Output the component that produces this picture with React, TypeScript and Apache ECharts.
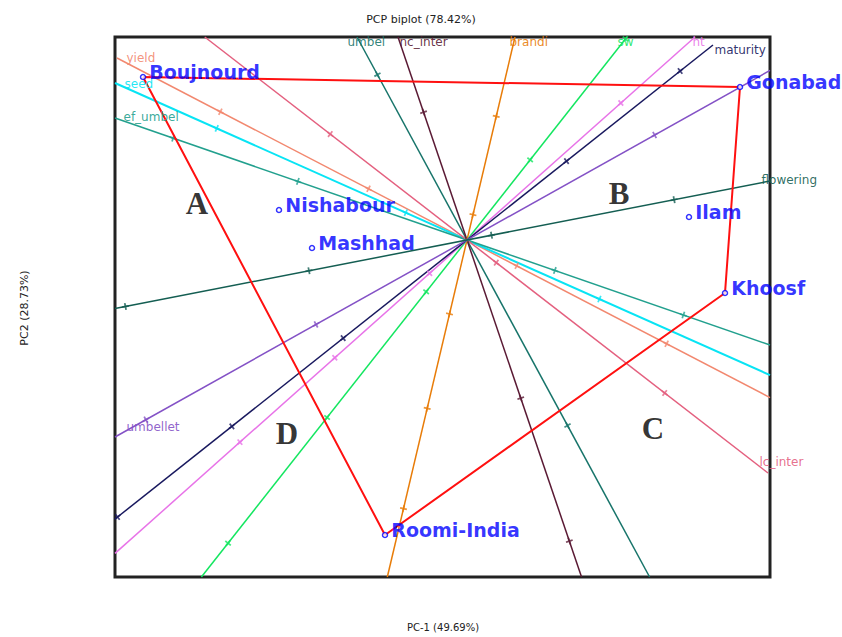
import React, { useEffect, useRef } from "react";
import * as echarts from "echarts";

// Axis extents (PC scores)
const xMin = -3.52, xMax = 3.03, yMin = -3.37, yMax = 2.03;

// Genotypes
const genoNames = ["Boujnourd", "Gonabad", "Nishabour", "Mashhad", "Ilam", "Khoosf", "Roomi-India"];
const genoPC1 = [-3.24, 2.73, -1.88, -1.55, 2.22, 2.58, -0.82];
const genoPC2 = [1.63, 1.53, 0.30, -0.08, 0.23, -0.53, -2.95];
const hullOrder = ["Boujnourd", "Gonabad", "Khoosf", "Roomi-India", "Boujnourd"];

// Trait vectors (end where the label sits)
const traitNames = ["yield", "seed", "ef_umbel", "lc_inter", "umbel", "nc_inter", "brandi", "sw", "ht", "maturity", "umbellet", "flowering"];
const traitX = [-3.50, -3.52, -3.52, 3.01, -1.10, -0.69, 0.48, 1.60, 2.28, 2.46, -3.52, 3.03];
const traitY = [1.82, 1.57, 1.22, -2.33, 2.03, 2.03, 2.03, 2.03, 2.03, 1.95, -1.97, 0.59];
// Scale markers along each vector (distance toward label end)
const traitMarks = [
  [2.78, 1.11, -0.56, -2.25],
  [2.74, 0.67, -1.45],
  [3.11, 1.79, -0.93, -2.29],
  [-1.73, 0.37, 2.50],
  [1.88, -2.11],
  [1.35, -1.67, -3.18],
  [1.27, 0.26, -0.76, -1.73, -2.76],
  [2.56, 1.02, -0.66, -2.26, -3.86],
  [2.06, -0.5, -1.77, -3.04],
  [2.72, 1.27, -1.58, -3.0, -4.46],
  [3.68, 1.73, -2.15],
  [2.11, 0.25, -1.61, -3.48],
];

// Quadrant letters
const quadNames = ["A", "B", "C", "D"];
const quadX = [-2.70, 1.52, 1.86, -1.80];
const quadY = [0.37, 0.47, -1.88, -1.93];

// Styles
const traitColors = ["#f2886f", "#08e4f4", "#22a08e", "#e4607f", "#17746a", "#5a1a34", "#e87c08", "#14e660", "#e874e8", "#18185e", "#8452c6", "#145e52"];
const traitWidths = [1.5, 2, 1.5, 1.5, 1.5, 1.5, 1.5, 1.5, 1.5, 1.5, 1.5, 1.5];
const labelOffsets = [
  [10, 0], [10, 1], [9, -1], [-8, -11], [-9, 5], [2, 5], [-5, 5], [-9, 5], [-2, 5], [2, 5], [12, -10], [-8, -1],
];

export default function App() {
  const ref = useRef<HTMLDivElement>(null);
  useEffect(() => {
    if (!ref.current) return;
    const chart = echarts.init(ref.current, null, { renderer: "svg" });

    const series: any[] = [];

    traitNames.forEach((name, i) => {
      const ex = traitX[i], ey = traitY[i];
      const dx = -ex, dy = -ey;
      const sx = dx > 0 ? xMax / dx : dx < 0 ? xMin / dx : Infinity;
      const sy = dy > 0 ? yMax / dy : dy < 0 ? yMin / dy : Infinity;
      const s = Math.min(sx, sy);
      series.push({
        type: "line",
        name,
        data: [[ex, ey], [dx * s, dy * s]],
        symbol: "none",
        silent: true,
        z: 2,
        lineStyle: { color: traitColors[i], width: traitWidths[i] },
        clip: true,
      });
      const len = Math.sqrt(ex * ex + ey * ey);
      series.push({
        type: "scatter",
        data: traitMarks[i].map((t) => [(ex / len) * t, (ey / len) * t]),
        symbol: "path://M3,0H5V3H8V5H5V8H3V5H0V3H3Z",
        symbolSize: 7,
        symbolRotate: (Math.atan2(ey, ex) * 180) / Math.PI,
        itemStyle: { color: traitColors[i] },
        silent: true,
        z: 3,
      });
    });

    series.push({
      type: "scatter",
      symbolSize: 1,
      itemStyle: { color: "transparent" },
      silent: true,
      z: 5,
      data: traitNames.map((name, i) => ({
        value: [traitX[i], traitY[i]],
        label: {
          show: true,
          formatter: name,
          position: [0, 0],
          align: "left",
          verticalAlign: "middle",
          offset: labelOffsets[i],
          color: traitColors[i],
          opacity: 0.9,
          fontSize: 12,
          fontFamily: "DejaVu Sans",
        },
      })),
    });

    // convex hull
    series.push({
      type: "line",
      data: hullOrder.map((n) => {
        const k = genoNames.indexOf(n);
        return [genoPC1[k], genoPC2[k]];
      }),
      symbol: "none",
      silent: true,
      z: 4,
      lineStyle: { color: "#ff1010", width: 2 },
    });

    // genotypes
    series.push({
      type: "scatter",
      symbol: "circle",
      symbolSize: 5,
      z: 6,
      itemStyle: { color: "#ffffff", borderColor: "#0000ff", borderWidth: 1.5 },
      data: genoNames.map((n, i) => ({ name: n, value: [genoPC1[i], genoPC2[i]] })),
      label: {
        show: true,
        position: "right",
        distance: 3,
        offset: [0, -5],
        formatter: "{b}",
        color: "#0000ff",
        fontSize: 19,
        fontWeight: "bold",
        fontFamily: "DejaVu Sans",
      },
    });

    // quadrant letters
    series.push({
      type: "scatter",
      symbolSize: 1,
      itemStyle: { color: "transparent" },
      silent: true,
      z: 6,
      data: quadNames.map((n, i) => ({ name: n, value: [quadX[i], quadY[i]] })),
      label: {
        show: true,
        position: "inside",
        formatter: "{b}",
        color: "#000000",
        fontSize: 31,
        fontWeight: "bold",
        fontFamily: "Liberation Serif, Times New Roman, serif",
      },
    });

    chart.setOption({
      animation: false,
      backgroundColor: "#ffffff",
      title: {
        text: "PCP biplot (78.42%)",
        left: "center",
        top: 9,
        textStyle: { fontSize: 11, fontWeight: "normal", color: "#222", fontFamily: "DejaVu Sans" },
      },
      grid: {
        left: 115,
        right: 72,
        top: 37,
        bottom: 60,
        show: true,
        borderColor: "#222222",
        borderWidth: 3,
        backgroundColor: "transparent",
      },
      xAxis: {
        type: "value",
        min: xMin,
        max: xMax,
        axisLine: { show: false },
        axisTick: { show: false },
        axisLabel: { show: false },
        splitLine: { show: false },
      },
      yAxis: {
        type: "value",
        min: yMin,
        max: yMax,
        axisLine: { show: false },
        axisTick: { show: false },
        axisLabel: { show: false },
        splitLine: { show: false },
      },
      graphic: [
        {
          type: "text",
          x: 443,
          y: 627,
          style: {
            text: "PC-1 (49.69%)",
            fontSize: 10,
            fontFamily: "DejaVu Sans",
            fill: "#222",
            align: "center",
            verticalAlign: "middle",
          },
        },
        {
          type: "text",
          x: 24,
          y: 308,
          rotation: Math.PI / 2,
          style: {
            text: "PC2 (28.73%)",
            fontSize: 11,
            fontFamily: "DejaVu Sans",
            fill: "#222",
            align: "center",
            verticalAlign: "middle",
          },
        },
      ],
      series,
    });
    return () => chart.dispose();
  }, []);
  return <div ref={ref} style={{ position: "absolute", left: 0, top: 0, width: 842, height: 637, background: "#fff" }} />;
}
